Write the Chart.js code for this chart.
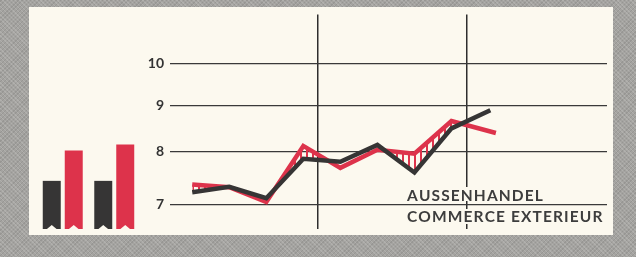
<!DOCTYPE html>
<html>
<head>
<meta charset="utf-8">
<script src="https://cdn.jsdelivr.net/npm/chart.js@4.4.0/dist/chart.umd.min.js"></script>
<style>
  html, body { margin: 0; padding: 0; }
  #wrap {
    position: relative; width: 636px; height: 257px; overflow: hidden;
    background-color: #a4a3a0;
    background-image: repeating-linear-gradient(45deg, rgba(255,255,255,0.14) 0 1px, transparent 1px 3px),
                      repeating-linear-gradient(-45deg, rgba(0,0,0,0.08) 0 1px, transparent 1px 3px);
  }
  #panel { position: absolute; left: 29px; top: 7px; width: 584px; height: 228px; background: #fcf9ef; }
  canvas { position: absolute; left: 0; top: 0; }
</style>
</head>
<body>
<div id="wrap">
  <div id="panel"></div>
  <canvas id="bars" width="160" height="257"></canvas>
  <canvas id="lines" width="636" height="257"></canvas>
</div>
<script>
// Werte (logarithmische Skala)
const redX = [0, 1, 2, 3, 4, 5, 6, 7, 8.2];
const redValues = [7.36, 7.31, 7.04, 8.12, 7.68, 8.04, 7.96, 8.65, 8.39];
const blackX = [0, 1, 2, 3, 4, 5, 6, 7, 8.05];
const blackValues = [7.22, 7.32, 7.11, 7.86, 7.80, 8.14, 7.59, 8.49, 8.89];
const yearBreaks = [3.4, 7.4];
const yTicks = [7, 8, 9, 10];
const barGroups = ['1', '2'];
const barBlack = [7.42, 7.42];
const barRed = [8.01, 8.13];
const titleLines = ['AUSSENHANDEL', 'COMMERCE EXTERIEUR'];

const RED = '#dd334b';
const BLACK = '#363535';
const CREAM = '#fcf9ef';
const Y_MIN = 6.575, Y_MAX = 11.34;

// Schraffur zwischen den Linien
function hatchPattern() {
    const c = document.createElement('canvas');
    c.width = 6; c.height = 6;
    const g = c.getContext('2d');
    g.fillStyle = RED;
    g.fillRect(0, 0, 2, 6);
    return g.createPattern(c, 'repeat');
}

const titlePlugin = {
    id: 'title',
    afterDraw(chart) {
        const ctx = chart.ctx;
        ctx.save();
        ctx.fillStyle = CREAM;
        ctx.fillRect(403, 187, 204, 14);
        ctx.fillRect(403, 209, 204, 15);
        ctx.font = '700 15.5px Lato';
        ctx.fillStyle = '#3d3d3d';
        ctx.textBaseline = 'alphabetic';
        const w2 = ctx.measureText(titleLines[1]).width;
        const spacing = (195 - w2) / (titleLines[1].length - 1);
        const baselines = [200.5, 221.5];
        titleLines.forEach((line, i) => {
            let x = 407;
            for (const ch of line) {
                ctx.fillText(ch, x, baselines[i]);
                x += ctx.measureText(ch).width + spacing;
            }
        });
        ctx.restore();
    }
};

new Chart(document.getElementById('lines'), {
    type: 'line',
    data: {
        datasets: [{
            data: redX.map((x, i) => ({ x: x, y: redValues[i] })),
            borderColor: RED,
            borderWidth: 4.5,
            borderJoinStyle: 'miter',
            pointRadius: 0,
            tension: 0,
            order: 1,
            fill: { target: 1, above: hatchPattern(), below: 'rgba(0,0,0,0)' }
        }, {
            data: blackX.map((x, i) => ({ x: x, y: blackValues[i] })),
            borderColor: BLACK,
            borderWidth: 4.5,
            borderJoinStyle: 'miter',
            pointRadius: 0,
            tension: 0,
            order: 0,
            fill: false
        }]
    },
    options: {
        responsive: false,
        animation: false,
        layout: { padding: { left: 130, right: 29, top: 12, bottom: 28 } },
        plugins: { legend: { display: false }, tooltip: { enabled: false } },
        scales: {
            x: {
                type: 'linear', min: -0.6, max: 11.2, bounds: 'data',
                afterBuildTicks: s => { s.ticks = yearBreaks.map(v => ({ value: v })); },
                afterFit: s => { s.height = 0; },
                ticks: { display: false },
                border: { display: false },
                grid: { color: '#2e2e2e', lineWidth: 1.5, drawTicks: false }
            },
            y: {
                type: 'logarithmic', min: Y_MIN, max: Y_MAX, bounds: 'data',
                afterBuildTicks: s => { s.ticks = yTicks.map(v => ({ value: v })); },
                afterFit: s => { s.width = 40; },
                ticks: {
                    callback: v => String(v),
                    padding: 6,
                    color: '#333',
                    font: { family: 'Lato', size: 14, weight: '700' }
                },
                border: { display: false },
                grid: { color: '#3a3a3a', lineWidth: 1.3, drawTicks: false }
            }
        }
    },
    plugins: [titlePlugin]
});

// Kerben am Fuss der Saeulen
const notchPlugin = {
    id: 'notch',
    afterDatasetsDraw(chart) {
        const ctx = chart.ctx;
        ctx.save();
        ctx.fillStyle = CREAM;
        chart.data.datasets.forEach((ds, i) => {
            chart.getDatasetMeta(i).data.forEach(bar => {
                const l = bar.x - bar.width / 2, r = bar.x + bar.width / 2, b = bar.base;
                ctx.beginPath();
                ctx.moveTo(l + 3, b + 1);
                ctx.lineTo(bar.x, b - 4);
                ctx.lineTo(r - 3, b + 1);
                ctx.closePath();
                ctx.fill();
            });
        });
        ctx.restore();
    }
};

new Chart(document.getElementById('bars'), {
    type: 'bar',
    data: {
        labels: barGroups,
        datasets: [
            { data: barBlack, backgroundColor: BLACK },
            { data: barRed, backgroundColor: RED }
        ]
    },
    options: {
        responsive: false,
        animation: false,
        layout: { padding: { left: 37, right: 20, top: 12, bottom: 28 } },
        plugins: { legend: { display: false }, tooltip: { enabled: false } },
        datasets: { bar: { categoryPercentage: 0.854, barPercentage: 0.818 } },
        scales: {
            x: { display: false },
            y: { type: 'logarithmic', min: Y_MIN, max: Y_MAX, bounds: 'data', display: false }
        }
    },
    plugins: [notchPlugin]
});
</script>
</body>
</html>
